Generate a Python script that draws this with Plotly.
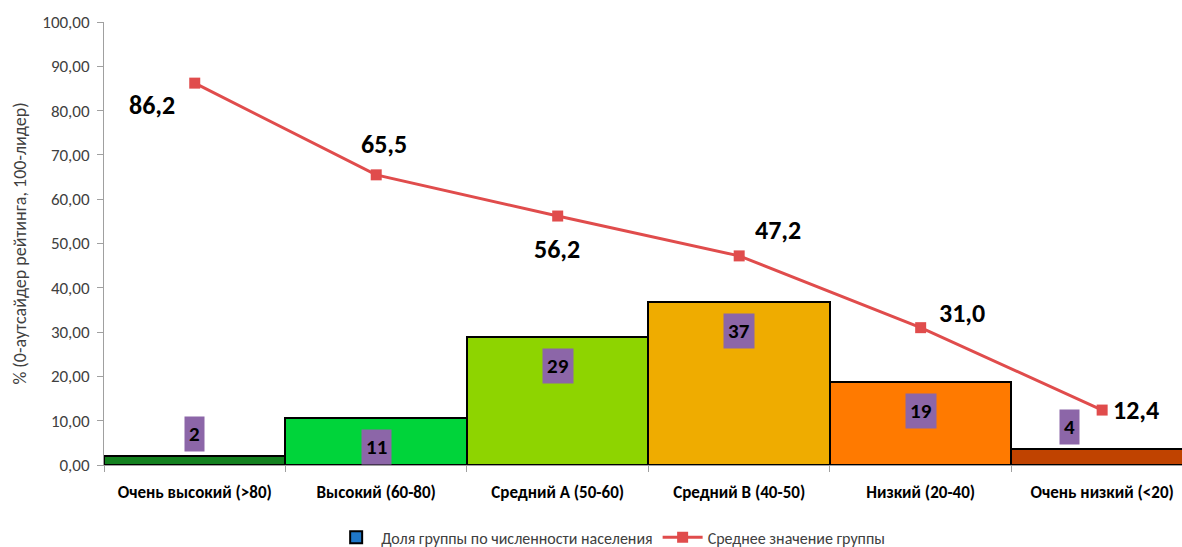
import plotly.graph_objects as go

categories = ["Очень высокий (>80)", "Высокий (60-80)", "Средний А (50-60)",
              "Средний В (40-50)", "Низкий (20-40)", "Очень низкий (<20)"]
share_values = [2.0, 10.6, 28.9, 36.7, 18.7, 3.6]
share_labels = ["2", "11", "29", "37", "19", "4"]
mean_values = [86.2, 65.5, 56.2, 47.2, 31.0, 12.4]
yticks = [0, 10, 20, 30, 40, 50, 60, 70, 80, 90, 100]

bar_colors = ["#13801F", "#00D43A", "#8ED400", "#EFAC00", "#FF7A00", "#C04300"]
FONT = "Carlito, Calibri, 'Liberation Sans Narrow', Lato, sans-serif"

fig = go.Figure()
fig.add_trace(go.Bar(
    x=categories, y=share_values, width=1.0,
    marker=dict(color=bar_colors, line=dict(color="black", width=2)),
    showlegend=False, hoverinfo="skip",
))
# legend swatch for bars
fig.add_trace(go.Bar(
    x=[None], y=[None], name="Доля группы по численности населения",
    marker=dict(color="#1F77C8", line=dict(color="black", width=2)),
))
fig.add_trace(go.Scatter(
    x=categories, y=mean_values, mode="lines+markers",
    name="Среднее значение группы",
    line=dict(color="#E04C4C", width=3),
    marker=dict(symbol="square", size=11, color="#E04C4C"),
))

# purple value labels for bars
for i, (v, t) in enumerate(zip(share_values, share_labels)):
    ypos = v + 5 if v < 5 else v - 6.5
    xs = -33 if i == len(share_values) - 1 else 0
    fig.add_annotation(x=categories[i], y=ypos, text="<b>%s</b>" % t, showarrow=False,
                       bgcolor="#8C66A8", font=dict(family=FONT, size=21, color="black"),
                       borderpad=4, xshift=xs)

# line labels
shifts = [(-43, -22), (8, 31), (-1, -33), (39, 26), (41, 15), (34, 0)]
for i, v in enumerate(mean_values):
    dx, dy = shifts[i]
    fig.add_annotation(x=categories[i], y=v, text="<b>%s</b>" % ("%.1f" % v).replace(".", ","),
                       showarrow=False, xshift=dx, yshift=dy,
                       font=dict(family=FONT, size=26, color="black"))

fig.update_layout(
    width=1182, height=547,
    margin=dict(l=104, r=0, t=22, b=82, autoexpand=False),
    paper_bgcolor="white", plot_bgcolor="white",
    separators=", ",
    bargap=0,
    font=dict(family=FONT, color="#404040"),
    legend=dict(orientation="h", x=0.47, xanchor="center", y=-0.125, yanchor="top",
                font=dict(family=FONT, size=16, color="#404040"),
                itemwidth=40, traceorder="normal"),
    xaxis=dict(range=[-0.5, 5.44], showline=True, linecolor="#A0A0A0", linewidth=1,
               ticks="outside", tickson="boundaries", ticklen=6, tickcolor="#A0A0A0",
               ticklabelstandoff=12, automargin=False,
               tickfont=dict(family=FONT, size=17, color="black"),
               showgrid=False, zeroline=False),
    yaxis=dict(range=[0, 100], tickvals=yticks, tickformat=".2f",
               showline=True, linecolor="#A0A0A0", linewidth=1,
               ticks="outside", ticklen=6, tickcolor="#A0A0A0", automargin=False,
               ticklabelstandoff=4,
               tickfont=dict(family=FONT, size=17, color="#404040"),
               title=dict(text="% (0-аутсайдер рейтинга, 100-лидер)",
                          font=dict(family=FONT, size=18, color="#404040"), standoff=10),
               showgrid=False, zeroline=False),
)
fig.update_xaxes(tickprefix="<b>", ticksuffix="</b>")

fig.write_html("out.html", config={"displayModeBar": False},
               post_script="document.body.style.margin='0px';")
